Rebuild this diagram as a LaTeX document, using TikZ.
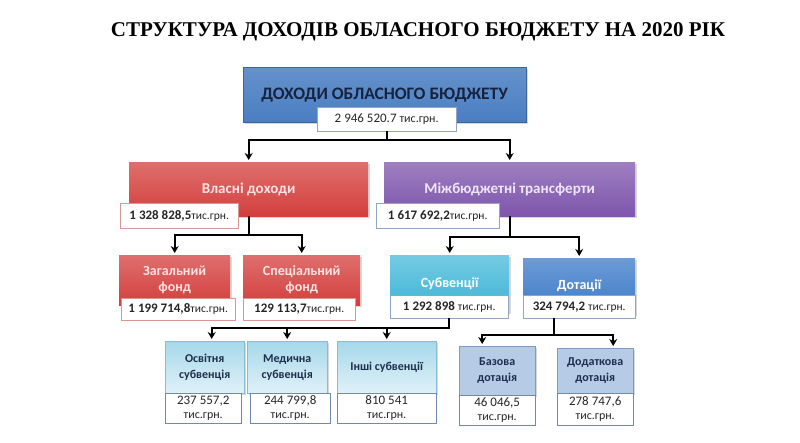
\documentclass[tikz,border=0pt]{standalone}
\usepackage{fontspec}
\setmainfont{Carlito}
\newfontfamily\titlefont{Liberation Serif}
\usetikzlibrary{arrows.meta, positioning, shadows}
\definecolor{clrTop}{HTML}{4A7EC2}
\definecolor{clrTopText}{HTML}{16233F}
\definecolor{clrOwn}{HTML}{D33F3D}
\definecolor{clrOwnText}{HTML}{FBE3E3}
\definecolor{clrTrans}{HTML}{7E55AC}
\definecolor{clrTransText}{HTML}{EEE6F6}
\definecolor{clrSubv}{HTML}{3AB4D6}
\definecolor{clrDot}{HTML}{3C7AC8}
\definecolor{clrLight}{HTML}{A6D8EA}
\definecolor{clrLightLine}{HTML}{86BCD4}
\definecolor{clrSteel}{HTML}{B6CCE6}
\definecolor{clrSteelLine}{HTML}{7C9CC2}
\definecolor{clrLowText}{HTML}{1E2E4C}
\definecolor{clrValRed}{HTML}{D99694}
\definecolor{clrValBlue}{HTML}{8EA6C4}
\definecolor{clrValLow}{HTML}{6F8AAB}

\begin{document}
\begin{tikzpicture}[
  x=1pt, y=-1pt,
  box/.style = {
    rectangle,
    anchor=north west,
    inner sep=2pt,
    align=center,
    font=\bfseries\fontsize{15}{17}\selectfont,
    drop shadow={shadow xshift=2pt, shadow yshift=-2pt, fill=black!30}
  },
  lowbox/.style = {
    box,
    font=\bfseries\fontsize{12}{16}\selectfont,
    text=clrLowText,
    draw=clrLightLine,
    top color=clrLight,
    bottom color=clrLight!35!white
  },
  dotbox/.style = {
    box,
    font=\bfseries\fontsize{12}{16}\selectfont,
    text=clrLowText,
    draw=clrSteelLine,
    fill=clrSteel
  },
  val/.style = {
    rectangle,
    anchor=north west,
    inner sep=1pt,
    align=center,
    fill=white,
    text=black!85,
    font=\fontsize{13}{14}\selectfont
  },
  lowval/.style = {
    val,
    draw=clrValLow,
    font=\fontsize{13}{13}\selectfont
  },
  arrow/.style = {
    -{Stealth[length=7pt, width=8pt]},
    line width=2pt,
    shorten >=2pt,
    color=black
  }
]
\useasboundingbox (0,0) rectangle (800,443);

% ── title ────────────────────────────────────────────────────────────────────
\node[font=\titlefont\bfseries\fontsize{21}{23}\selectfont] (title) at (418,32)
  {СТРУКТУРА ДОХОДІВ ОБЛАСНОГО БЮДЖЕТУ НА 2020 РІК};

% ── main boxes ───────────────────────────────────────────────────────────────
\node[box, minimum width=283, minimum height=55, text=clrTopText,
  top color=clrTop!85!white, bottom color=clrTop, draw=clrTop!80!black,
  font=\bfseries\fontsize{17.5}{19}\selectfont] (top) at (243,67)
  {ДОХОДИ ОБЛАСНОГО БЮДЖЕТУ};

\node[box, minimum width=239, minimum height=54, text=clrOwnText,
  top color=clrOwn!75!white, bottom color=clrOwn] (own) at (129,162)
  {Власні доходи};

\node[box, minimum width=251, minimum height=54, text=clrTransText,
  top color=clrTrans!75!white, bottom color=clrTrans] (trans) at (384,162)
  {Міжбюджетні трансферти};

\node[box, minimum width=111, minimum height=50, text=clrOwnText,
  top color=clrOwn!75!white, bottom color=clrOwn,
  font=\bfseries\fontsize{14}{16}\selectfont] (zag) at (119,255)
  {Загальний\\фонд};

\node[box, minimum width=117, minimum height=50, text=clrOwnText,
  top color=clrOwn!75!white, bottom color=clrOwn,
  font=\bfseries\fontsize{14}{16}\selectfont] (spec) at (243,255)
  {Спеціальний\\фонд};

\node[box, minimum width=119, minimum height=57, text=white,
  top color=clrSubv!70!white, bottom color=clrSubv,
  font=\bfseries\fontsize{14}{16}\selectfont] (subv) at (390,255)
  {Субвенції};

\node[box, minimum width=112, minimum height=56, text=white,
  top color=clrDot!75!white, bottom color=clrDot,
  font=\bfseries\fontsize{14}{16}\selectfont] (dot) at (523,258)
  {Дотації};

% ── lower boxes ──────────────────────────────────────────────────────────────
\node[lowbox, minimum width=79, minimum height=52] (osv) at (165,341)
  {Освітня\\субвенція};
\node[lowbox, minimum width=80, minimum height=52] (med) at (247,341)
  {Медична\\субвенція};
\node[lowbox, minimum width=99, minimum height=52] (inshi) at (337,341)
  {Інші субвенції};
\node[dotbox, minimum width=76, minimum height=49] (baz) at (459,346)
  {Базова\\дотація};
\node[dotbox, minimum width=76, minimum height=45] (dod) at (557,348)
  {Додаткова\\дотація};

% ── value boxes ──────────────────────────────────────────────────────────────
\node[val, draw=clrValBlue, minimum width=139, minimum height=24] (topval) at (317,107)
  {2 946 520.7 {\fontsize{12}{13}\selectfont тис.грн.}};
\node[val, draw=clrValRed, minimum width=118, minimum height=25] (ownval) at (120,203)
  {\bfseries 1 328 828,5\mdseries{\fontsize{11.5}{12}\selectfont тис.грн.}};
\node[val, draw=clrValBlue, minimum width=123, minimum height=25] (transval) at (376,203)
  {\bfseries 1 617 692,2\mdseries{\fontsize{11.5}{12}\selectfont тис.грн.}};
\node[val, draw=clrValRed, minimum width=114, minimum height=22] (zagval) at (121,298)
  {\bfseries 1 199 714,8\mdseries{\fontsize{11.5}{12}\selectfont тис.грн.}};
\node[val, draw=clrValRed, minimum width=112, minimum height=22] (specval) at (243,298)
  {\bfseries 129 113,7\mdseries{\fontsize{11.5}{12}\selectfont тис.грн.}};
\node[val, draw=clrValBlue, minimum width=118, minimum height=23] (subvval) at (390,295)
  {\bfseries 1 292 898 \mdseries{\fontsize{11.5}{12}\selectfont тис.грн.}};
\node[val, draw=clrValBlue, minimum width=112, minimum height=23] (dotval) at (523,295)
  {\bfseries 324 794,2 \mdseries{\fontsize{11.5}{12}\selectfont тис.грн.}};

\node[lowval, minimum width=76, minimum height=30] (osvval) at (165,393)
  {237 557,2\\[1pt]{\fontsize{12}{12}\selectfont тис.грн.}};
\node[lowval, minimum width=80, minimum height=30] (medval) at (250,393)
  {244 799,8\\[1pt]{\fontsize{12}{12}\selectfont тис.грн.}};
\node[lowval, minimum width=99, minimum height=30] (inshival) at (337,393)
  {810 541\\[1pt]{\fontsize{12}{12}\selectfont тис.грн.}};
\node[lowval, minimum width=76, minimum height=30] (bazval) at (459,395)
  {46 046,5\\[1pt]{\fontsize{12}{12}\selectfont тис.грн.}};
\node[lowval, minimum width=76, minimum height=32] (dodval) at (557,393)
  {278 747,6\\[1pt]{\fontsize{12}{12}\selectfont тис.грн.}};

% ── arrows ───────────────────────────────────────────────────────────────────
\draw[arrow] (topval.south) -- ++(0,9) -| (own.north);
\draw[arrow] (topval.south) -- ++(0,9) -| (trans.north);
\draw[arrow] (own.south)    -- ++(0,19) -| (zag.north);
\draw[arrow] (own.south)    -- ++(0,19) -| (spec.north);
\draw[arrow] (trans.south)  -- ++(0,21) -| (subv.north);
\draw[arrow] (trans.south)  -- ++(0,21) -| (dot.north);
\draw[arrow] (subvval.south) -- ++(0,10) -| ([xshift=7pt]osv.north);
\draw[arrow] (subvval.south) -- ++(0,10) -| (med.north);
\draw[arrow] (subvval.south) -- ++(0,10) -| (inshi.north);
\draw[arrow] ([xshift=-25pt]dotval.south) -- ++(0,17) -| ([xshift=-15pt]baz.north);
\draw[arrow] ([xshift=-25pt]dotval.south) -- ++(0,17) -| ([xshift=18pt]dod.north);

\end{tikzpicture}
\end{document}
